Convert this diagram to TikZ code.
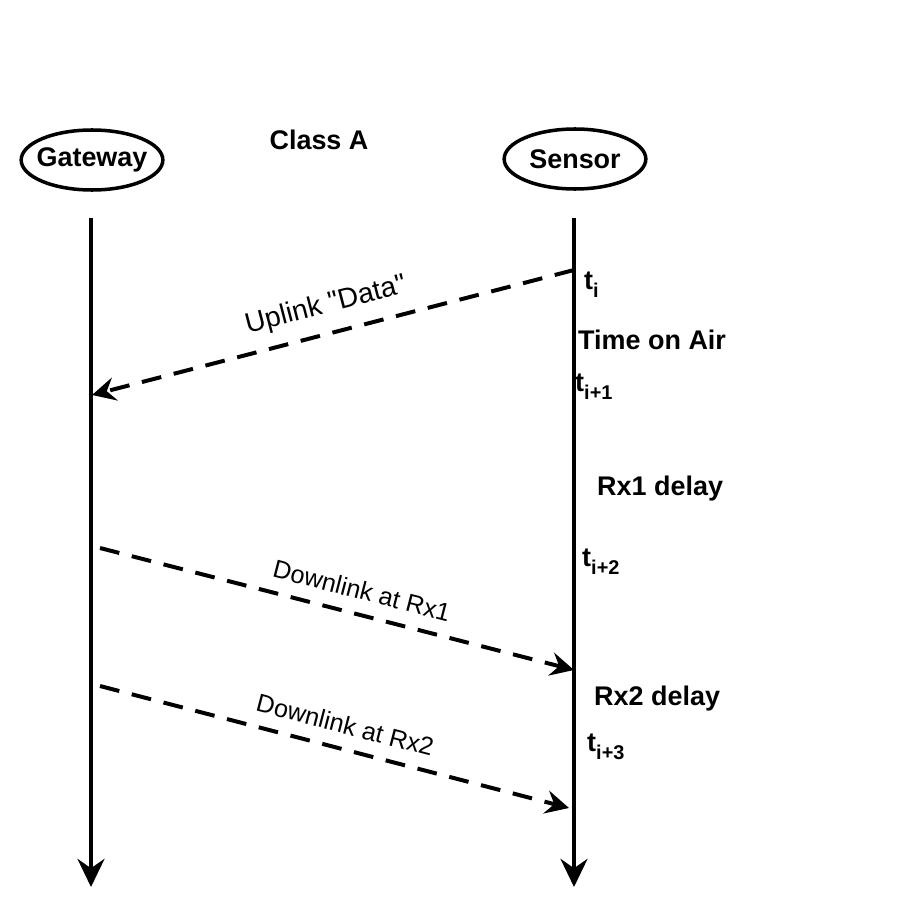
\documentclass[tikz,border=0pt]{standalone}
\usepackage{fontspec}
\setmainfont{Liberation Sans}
\usetikzlibrary{arrows.meta}
\usetikzlibrary{shapes.geometric}
\newcommand{\tlab}[1]{t\raisebox{-0.55ex}{\fontsize{17}{17}\selectfont #1}}
\tikzset{
  actor/.style={ellipse,draw,line width=3pt,minimum width=4.25cm,minimum height=1.8cm,inner xsep=-5pt,inner ysep=0pt,font=\fontsize{23}{27}\selectfont\bfseries},
  life/.style={line width=3.4pt,-{Stealth[length=24pt,width=23pt,inset=8pt]}},
  msg/.style={line width=3.4pt,dash pattern=on 17pt off 11pt,-{Stealth[length=20pt,width=20pt,inset=7pt]}},
  msglabel/.style={font=\fontsize{21.5}{25}\selectfont,sloped,above=11pt,inner sep=0pt},
  note/.style={font=\fontsize{23}{27}\selectfont\bfseries,anchor=west,inner sep=0pt}
}
\begin{document}
\begin{tikzpicture}[x=0.03cm,y=-0.03cm]
\useasboundingbox (0,0) rectangle (908,905);

% the two ends
\node[actor] (gw) at (92,160) {Gateway};
\node[actor] (sn) at (575,159) {Sensor};
\node[font=\fontsize{23}{27}\selectfont\bfseries] (cls) at (319,140) {Class A};

% lifelines
\coordinate (gwtop) at (91,218);
\coordinate (gwbot) at (91,887);
\coordinate (sntop) at (574,218);
\coordinate (snbot) at (574,887);
\draw[life] (gwtop) -- (gwbot);
\draw[life] (sntop) -- (snbot);

% messages
\coordinate (ulsrc) at (574,270);
\coordinate (uldst) at (92,395);
\coordinate (dlasrc) at (100,548);
\coordinate (dladst) at (574,670);
\coordinate (dlbsrc) at (100,686);
\coordinate (dlbdst) at (569,808);
\draw[msg] (ulsrc) -- (uldst) node[msglabel,pos=0.5,font=\fontsize{24}{28}\selectfont] (ullab) {Uplink \textquotedbl Data\textquotedbl};
\draw[msg] (dlasrc) -- (dladst) node[msglabel,pos=0.54] (dlalab) {Downlink at Rx1};
\draw[msg] (dlbsrc) -- (dlbdst) node[msglabel,pos=0.51] (dlblab) {Downlink at Rx2};

% time marks on the sensor side
\node[note] (ti) at (584,285) {\tlab{i}};
\node[note] (toa) at (578,340) {Time on Air};
\node[note] (tia) at (575,387) {\tlab{i+1}};
\node[note] (rxa) at (597,489) {Rx1 delay};
\node[note] (tib) at (582,562) {\tlab{i+2}};
\node[note] (rxb) at (594,699) {Rx2 delay};
\node[note] (tic) at (587,747) {\tlab{i+3}};

\end{tikzpicture}
\end{document}
